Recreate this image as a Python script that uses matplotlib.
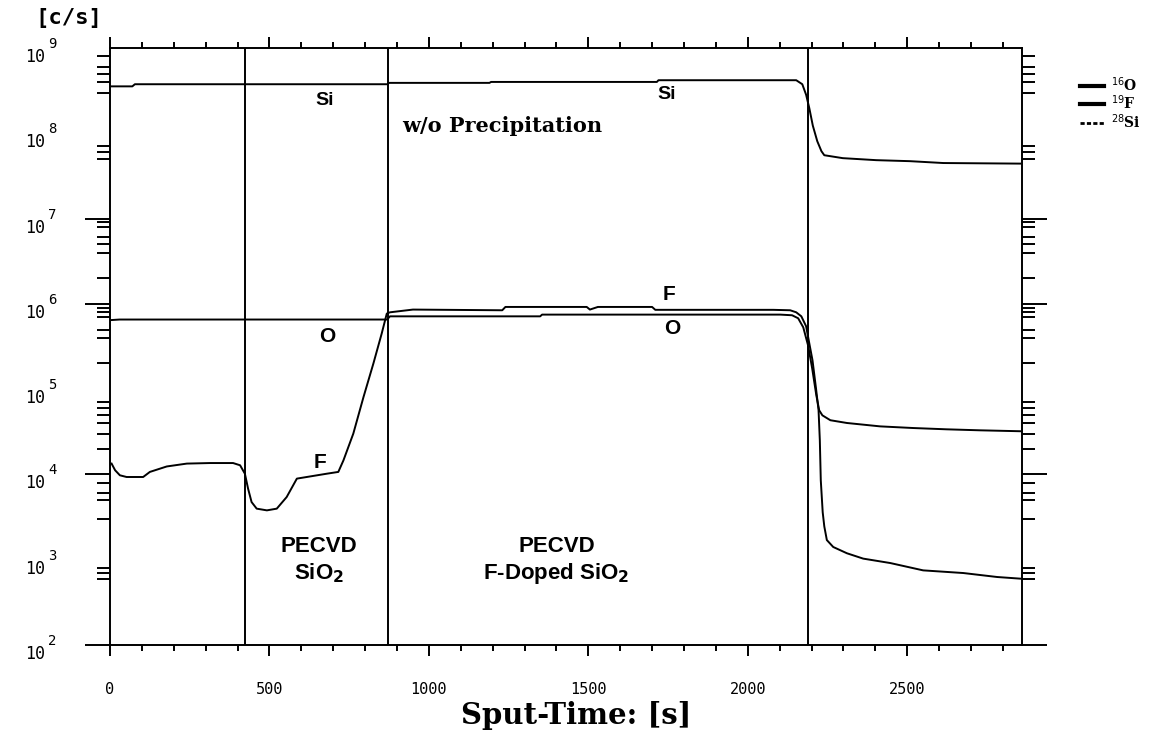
"""
SIMS depth profile: 16O, 19F and 28Si count rates vs. sputter time
PECVD SiO2 / F-doped SiO2 stack on Si, w/o precipitation
"""
import matplotlib.pyplot as plt
import numpy as np

# sputter time [s] and count rates [c/s]
si_time = [5, 70, 78, 870, 875, 1190, 1195, 1715, 1720, 2152, 2171, 2183, 2193,
           2204, 2218, 2231, 2240, 2298, 2403, 2509, 2613, 2854]
si_counts = [3.55e8, 3.55e8, 3.76e8, 3.76e8, 3.90e8, 3.90e8, 4.00e8, 4.00e8, 4.19e8,
             4.19e8, 3.76e8, 2.83e8, 1.97e8, 1.23e8, 8.07e7, 6.17e7, 5.53e7, 5.11e7,
             4.84e7, 4.71e7, 4.48e7, 4.41e7]

o_time = [5, 30, 869, 878, 1349, 1355, 2102, 2139, 2158, 2174, 2189, 2202, 2215,
          2224, 2234, 2259, 2311, 2415, 2519, 2624, 2729, 2854]
o_counts = [6.46e5, 6.55e5, 6.55e5, 7.14e5, 7.14e5, 7.48e5, 7.48e5, 7.35e5, 6.78e5,
            5.31e5, 3.27e5, 1.75e5, 8.47e4, 5.65e4, 4.93e4, 4.32e4, 4.01e4, 3.66e4,
            3.50e4, 3.38e4, 3.29e4, 3.21e4]

f_time = [5, 16, 31, 52, 104, 125, 178, 241, 314, 386, 408, 423, 433, 444, 460, 492,
          523, 554, 586, 617, 680, 716, 732, 763, 795, 826, 852, 868, 878, 950, 1230,
          1240, 1495, 1505, 1530, 1700, 1710, 2080, 2133, 2152, 2168, 2183, 2193, 2203,
          2214, 2222, 2226, 2229, 2235, 2240, 2248, 2268, 2311, 2362, 2447, 2550, 2676,
          2782, 2854]
f_counts = [1.34e4, 1.12e4, 9.77e3, 9.33e3, 9.33e3, 1.07e4, 1.24e4, 1.34e4, 1.36e4,
            1.36e4, 1.28e4, 1.02e4, 6.81e3, 4.74e3, 3.97e3, 3.79e3, 3.97e3, 5.43e3,
            8.93e3, 9.33e3, 1.02e4, 1.07e4, 1.46e4, 3.01e4, 8.09e4, 2.00e5, 4.48e5,
            7.69e5, 7.96e5, 8.57e5, 8.41e5, 9.20e5, 9.20e5, 8.57e5, 9.20e5, 9.20e5,
            8.51e5, 8.51e5, 8.41e5, 7.96e5, 7.14e5, 5.46e5, 3.44e5, 2.18e5, 1.02e5,
            5.65e4, 2.51e4, 8.53e3, 3.60e3, 2.46e3, 1.70e3, 1.41e3, 1.19e3, 1.03e3,
            9.14e2, 7.50e2, 6.98e2, 6.27e2, 6.00e2]

# layer interfaces [s]
interfaces = [423, 872, 2190]

x_major = [0, 500, 1000, 1500, 2000, 2500]
x_minor = list(range(0, 2900, 100))
decades = [2, 3, 4, 5, 6, 7, 8, 9]
y_major = [1e2, 1e4, 1e6, 1e7]
y_minor = [8e8, 6e8, 5e8, 4e8, 3e8, 7e7, 6e7, 5e7, 9e6, 8e6, 6e6, 5e6, 4e6, 2e6,
           9e5, 8e5, 7e5, 5e5, 4e5, 2e5, 7e4, 6e4, 5e4, 4e4, 3e4, 2e4,
           8e3, 6e3, 5e3, 3e3, 8e2, 7e2, 6e2]

LW = 1.4
SANS = 'Liberation Sans'
SERIF = 'DejaVu Serif'
MONO = 'DejaVu Sans Mono'

fig = plt.figure(figsize=(11.66, 7.37), dpi=100)
ax = fig.add_axes([110 / 1166, 92 / 737, 912 / 1166, 597 / 737])

line_o, = ax.plot(o_time, o_counts, color='black', lw=LW)
line_f, = ax.plot(f_time, f_counts, color='black', lw=LW)
line_si, = ax.plot(si_time, si_counts, color='black', lw=LW)

for t in interfaces:
    ax.axvline(t, color='black', lw=LW)

ax.set_yscale('log')
ax.set_xlim(0, 2860)
ax.set_ylim(1e2, 1e9)

for s in ax.spines.values():
    s.set_linewidth(LW)

ax.set_xticks(x_major)
ax.set_xticks(x_minor, minor=True)
ax.set_xticklabels([str(v) for v in x_major], fontfamily=MONO, fontsize=11)
ax.set_yticks(y_major)
ax.set_yticks(y_minor, minor=True)
ax.tick_params(axis='both', which='both', direction='out', top=True, right=True,
               width=LW, labelleft=False)
ax.tick_params(axis='x', which='major', length=8, pad=19)
ax.tick_params(axis='x', which='minor', length=4)
ax.tick_params(axis='y', which='major', length=18)
ax.tick_params(axis='y', which='minor', length=9.5)
ax.yaxis.set_minor_formatter(plt.NullFormatter())

# decade labels on the left: "10" with exponent
for e in decades:
    ax.annotate('10', xy=(0, 10.0 ** e), xycoords=('axes fraction', 'data'),
                xytext=(-65, -9), textcoords='offset pixels', ha='right', va='center',
                fontfamily=MONO, fontsize=12)
    ax.annotate(str(e), xy=(0, 10.0 ** e), xycoords=('axes fraction', 'data'),
                xytext=(-62, 4), textcoords='offset pixels', ha='left', va='center',
                fontfamily=MONO, fontsize=10)

fig.text(35 / 1166, 1 - 18 / 737, '[c/s]', ha='left', va='center',
         fontfamily=MONO, fontweight='bold', fontsize=16)

ax.set_xlabel('Sput-Time: [s]', fontfamily=SERIF, fontweight='bold', fontsize=21)
ax.xaxis.set_label_coords(0.511, -0.094)

# element and layer annotations
lbl = dict(fontfamily=SANS, fontweight='bold', ha='center', va='baseline')
ax.text(674, 2.13e8, 'Si', fontsize=14, **lbl)
ax.text(1747, 2.51e8, 'Si', fontsize=14, **lbl)
ax.text(680, 3.57e5, 'O', fontsize=15, **lbl)
ax.text(659, 1.18e4, 'F', fontsize=15, **lbl)
ax.text(1754, 1.10e6, 'F', fontsize=15, **lbl)
ax.text(1762, 4.48e5, 'O', fontsize=15, **lbl)
ax.text(1230, 1.04e8, 'w/o Precipitation', fontfamily=SERIF, fontweight='bold',
        fontsize=15, ha='center', va='baseline')

ax.text(655, 1.22e3, 'PECVD', fontsize=16, **lbl)
ax.text(655, 5.89e2, r'SiO$_\mathbf{2}$', fontsize=16, **lbl)
ax.text(1402, 1.22e3, 'PECVD', fontsize=16, **lbl)
ax.text(1398, 5.89e2, r'F-Doped SiO$_\mathbf{2}$', fontsize=16, **lbl)

leg = ax.legend([line_o, line_f, line_si],
                [r'$^{16}$O', r'$^{19}$F', r'$^{28}$Si'],
                loc='upper left', bbox_to_anchor=(1080 / 1166, 1 - 75 / 737),
                bbox_transform=fig.transFigure, frameon=False,
                prop={'family': SERIF, 'weight': 'bold', 'size': 10},
                handlelength=1.7, handletextpad=0.5, labelspacing=0.0,
                borderpad=0, borderaxespad=0)
for i, h in enumerate(leg.get_lines()):
    h.set_linewidth(3 if i < 2 else 2)
    if i == 2:
        h.set_linestyle((0, (1.5, 0.8)))

fig.savefig('out.png', dpi=100)
